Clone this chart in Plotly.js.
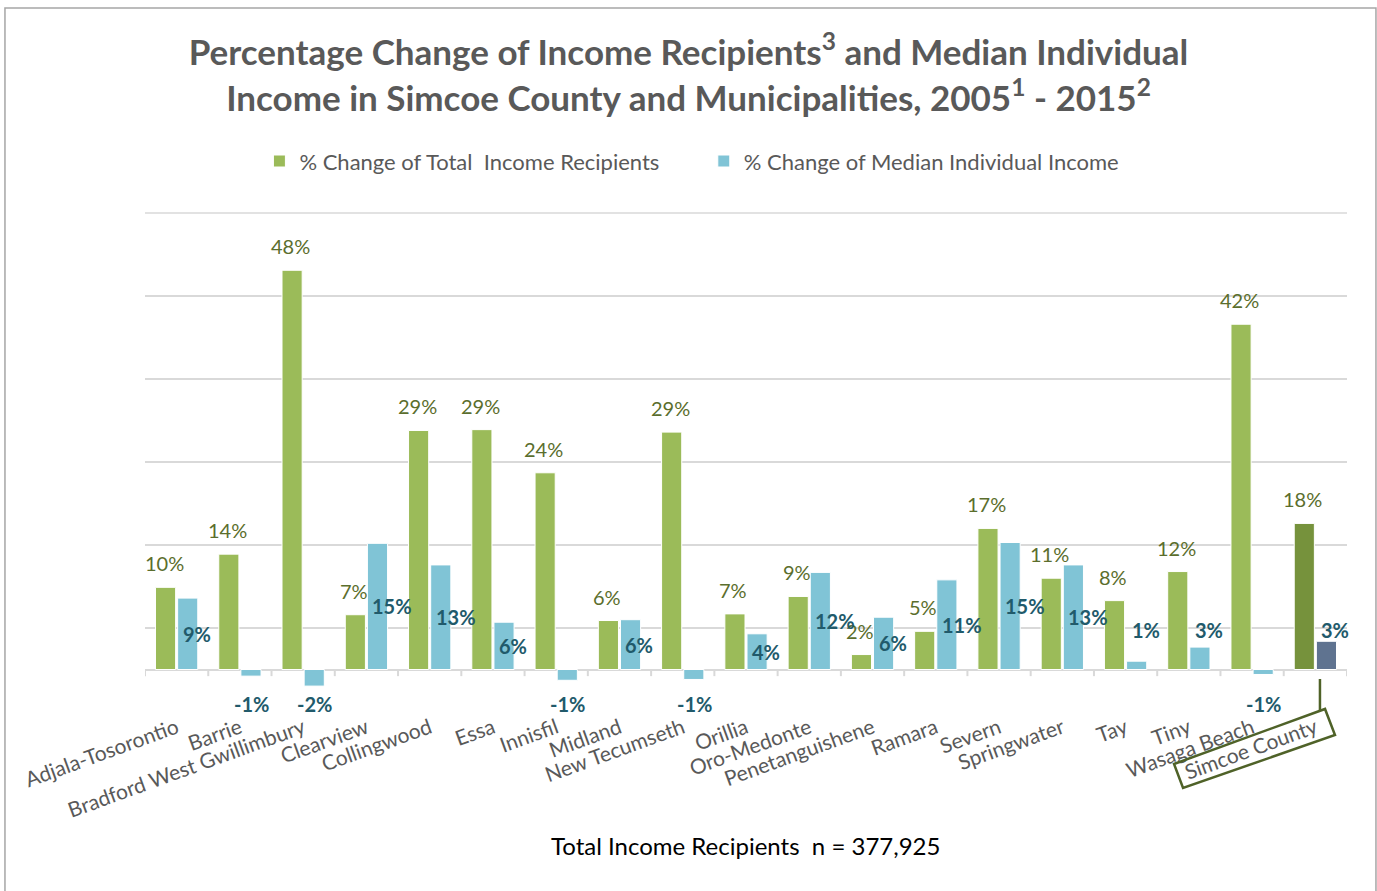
<!DOCTYPE html>
<html>
<head>
<meta charset="utf-8">
<script src="https://cdn.plot.ly/plotly-3.0.1.min.js"></script>
<style>html,body{margin:0;padding:0;background:#fff;}#chart{width:1377px;height:891px;}</style>
</head>
<body>
<div id="chart"></div>
<script>
var categories = ["Adjala-Tosorontio","Barrie","Bradford West Gwillimbury","Clearview","Collingwood","Essa","Innisfil","Midland","New Tecumseth","Orillia","Oro-Medonte","Penetanguishene","Ramara","Severn","Springwater","Tay","Tiny","Wasaga Beach","Simcoe County"];
var recipientsChange = [9.9, 13.9, 48.1, 6.6, 28.8, 28.9, 23.7, 5.9, 28.6, 6.7, 8.8, 1.8, 4.6, 17.0, 11.0, 8.3, 11.8, 41.6, 17.6];
var medianIncomeChange = [8.6, -0.8, -2.0, 15.2, 12.6, 5.7, -1.3, 6.0, -1.2, 4.3, 11.7, 6.3, 10.8, 15.3, 12.6, 1.0, 2.7, -0.6, 3.4];
var seriesNames = ["% Change of Total  Income Recipients", "% Change of Median Individual Income"];

var FONT = "Lato, 'Open Sans', sans-serif";
var n = categories.length;
var xs = categories.map(function(c, i){ return i; });
var last = n - 1;
var greenColors = xs.map(function(i){ return i === last ? '#76923C' : '#9BBB59'; });
var blueColors = xs.map(function(i){ return i === last ? '#5F7390' : '#80C4D6'; });
var pad = '\u00a0\u00a0\u00a0\u00a0\u00a0\u00a0\u00a0';

var traces = [
  {type:'bar', name: seriesNames[0].replace('  ', '\u00a0\u00a0') + pad, x: xs, y: recipientsChange,
   marker:{color: greenColors, line:{color:'#ffffff', width:1}}, hoverinfo:'y'},
  {type:'bar', name: seriesNames[1], x: xs, y: medianIncomeChange,
   marker:{color: blueColors, line:{color:'#ffffff', width:1}}, hoverinfo:'y'}
];

var annotations = [];
recipientsChange.forEach(function(v, i){
  annotations.push({x: i, y: v, xref:'x', yref:'y', text: Math.round(v) + '%', showarrow:false,
    xshift: -12.6, yshift: 10, yanchor:'bottom', xanchor:'center',
    font:{family: FONT, size: 20, color:'#5B6E2D'}});
});
medianIncomeChange.forEach(function(v, i){
  var y, xa, xs2;
  if (v < 0) { y = -4.1; xa = 'center'; xs2 = 11.4; }
  else if (v >= 4) { y = v / 2; xa = 'left'; xs2 = 4; }
  else { y = 4.8; xa = 'left'; xs2 = 4; }
  annotations.push({x: i, y: y, xref:'x', yref:'y', text: '<b>' + Math.round(v) + '%</b>', showarrow:false,
    xshift: xs2, yanchor:'middle', xanchor: xa,
    font:{family: FONT, size: 20, color:'#215A6B'}});
});
annotations.push({x: 0.5, y: -0.303, xref:'paper', yref:'paper', xshift: -1,
  text: 'Total Income Recipients\u00a0\u00a0n = 377,925', showarrow:false,
  font:{family: FONT, size: 24, color:'#000000'}});

var shapes = [];
// category boundary tick marks along the zero line
for (var k = 0; k <= n; k++) {
  shapes.push({type:'line', xref:'x', yref:'y', x0: k - 0.5, x1: k - 0.5, y0: 0, y1: -0.8,
    line:{color:'#D9D9D9', width:2}});
}
// top gridline at the upper edge of the value range
shapes.push({type:'line', xref:'paper', yref:'paper', x0: 0, x1: 1, y0: 1, y1: 1,
  line:{color:'#D9D9D9', width:1.5}, layer:'below'});
// outer chart border
shapes.push({type:'rect', xref:'paper', yref:'paper', x0: -0.1165, x1: 1.0241, y0: -0.40, y1: 1.4117,
  line:{color:'#A6A6A6', width:1.5}, fillcolor:'rgba(0,0,0,0)', layer:'below'});
// highlight box around "Simcoe County" label and connector
shapes.push({type:'path', xref:'paper', yref:'paper',
  path:'M 0.8561 -0.1064 L 0.9817 0.0041 L 0.9900 -0.0482 L 0.8636 -0.1546 Z',
  line:{color:'#4F6228', width:2.5}, fillcolor:'rgba(0,0,0,0)'});
shapes.push({type:'line', xref:'paper', yref:'paper', x0: 0.9775, x1: 0.9775, y0: 0.0643, y1: 0.002,
  line:{color:'#4F6228', width:2.5}});

var layout = {
  width: 1377, height: 891,
  paper_bgcolor:'#ffffff', plot_bgcolor:'#ffffff',
  margin:{l:145, r:30, t:213, b:180},
  title:{text:'Percentage Change of Income Recipients<sup>3</sup> and Median Individual<br>Income in Simcoe County and Municipalities, 2005<sup>1</sup> - 2015<sup>2</sup>',
    font:{family: FONT, size: 35, color:'#595959', weight: 'bold'}, x: 0.5, xanchor:'center', xref:'container',
    y: 0.927, yanchor:'middle', yref:'container'},
  barmode:'group', bargap: 0.30, bargroupgap: 0.09,
  showlegend: true,
  legend:{orientation:'h', x: 0.455, xanchor:'center', y: 1.104, yanchor:'middle',
    font:{family: FONT, size: 22, color:'#595959'}, bgcolor:'rgba(0,0,0,0)', traceorder:'normal'},
  xaxis:{type:'linear', range:[-0.5, n - 0.5], tickmode:'array', tickvals: xs, ticktext: categories,
    tickangle: -20, showgrid:false, zeroline:false, showline:false, ticks:'',
    tickfont:{family: FONT, size: 21, color:'#595959'}},
  yaxis:{range:[-5, 55], tick0: -5, dtick: 10, showticklabels:false, showgrid:true,
    gridcolor:'#D9D9D9', gridwidth:1.5, zeroline:true, zerolinecolor:'#D9D9D9', zerolinewidth:2,
    showline:false, ticks:''},
  annotations: annotations,
  shapes: shapes
};

Plotly.newPlot('chart', traces, layout, {displayModeBar:false, staticPlot:true});
</script>
</body>
</html>
